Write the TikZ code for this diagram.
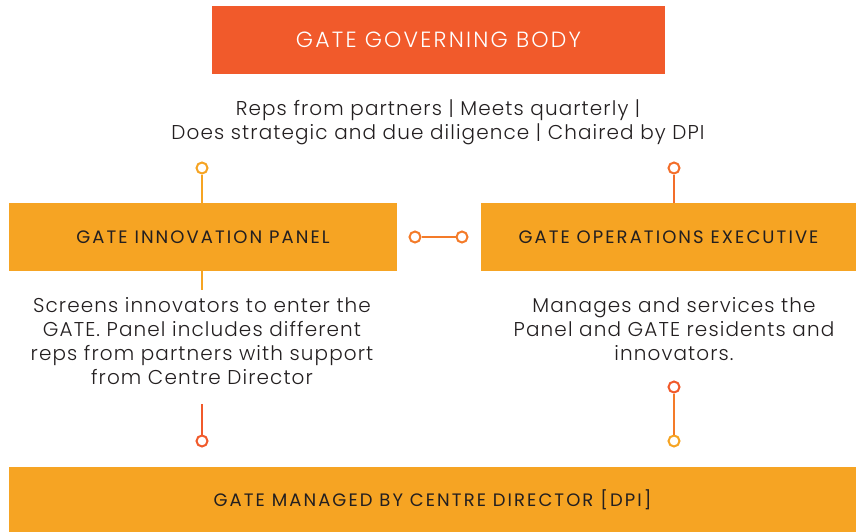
\documentclass[tikz,border=0pt]{standalone}
\usepackage{fontspec}
\setmainfont{Poppins Light}
\newfontfamily\boxfont{Poppins}
\usepackage{tikz}

\definecolor{govred}{HTML}{F15A2B}
\definecolor{panelamber}{HTML}{F6A423}
\definecolor{linkorange}{HTML}{F47B29}
\definecolor{inktext}{HTML}{231F20}

\tikzset{
  govbox/.style={fill=govred, text=white, inner sep=0pt, font=\fontsize{22}{25}\selectfont\addfontfeatures{LetterSpace=10}},
  panelbox/.style={fill=panelamber, text=inktext, inner sep=0pt, font=\boxfont\fontsize{18}{20}\selectfont\addfontfeatures{LetterSpace=11.5}},
  notetext/.style={text=inktext, align=center, inner sep=0pt, font=\fontsize{20}{24}\selectfont\addfontfeatures{LetterSpace=5.5}},
  knob/.style={circle, draw=#1, fill=white, line width=2pt, minimum size=11pt, inner sep=0pt},
  link/.style={draw=#1, line width=2pt}
}

\begin{document}
\begin{tikzpicture}[x=1pt, y=-1pt]
  \useasboundingbox (0,0) rectangle (856,532);

  % boxes
  \node[govbox, minimum width=453pt, minimum height=68pt] (gov) at (438.5,40) {GATE GOVERNING BODY};
  \node[panelbox, minimum width=388pt, minimum height=68pt] (innov) at (203,237) {GATE INNOVATION PANEL};
  \node[panelbox, minimum width=375pt, minimum height=68pt] (ops) at (668.5,237) {GATE OPERATIONS EXECUTIVE};
  \node[panelbox, minimum width=847pt, minimum height=65pt] (managed) at (432.5,499.5) {GATE MANAGED BY CENTRE DIRECTOR [DPI]};

  % texts
  \node[notetext] (govnote) at (438,122) {Reps from partners | Meets quarterly |\\Does strategic and due diligence | Chaired by DPI};
  \node[notetext] (innovnote) at (202,341) {Screens innovators to enter the\\GATE. Panel includes different\\reps from partners with support\\from Centre Director};
  \node[notetext] (opsnote) at (674,329) {Manages and services the\\Panel and GATE residents and\\innovators.};

  % connectors
  \begin{scope}[color=panelamber]
    \node[knob=panelamber] (govknobL) at (202,168) {};
    \draw[link=panelamber] (govknobL) -- (innov.north -| govknobL);
    \coordinate (innovtail) at (202,290);
    \draw[link=panelamber] (innov.south -| innovtail) -- (innovtail);
  \end{scope}
  \begin{scope}[color=govred]
    \node[knob=linkorange!60!govred] (govknobR) at (674,168) {};
    \draw[link=linkorange!60!govred] (govknobR) -- (ops.north -| govknobR);
    \coordinate (innovhead) at (202,404);
    \node[knob=govred] (managedknobL) at (202,441) {};
    \draw[link=govred] (innovhead) -- (managedknobL);
    \node[knob=govred] (opsknob) at (674,387) {};
    \node[knob=panelamber] (managedknobR) at (674,441) {};
    \draw[link=linkorange] (opsknob) -- (managedknobR);
  \end{scope}
  \node[knob=linkorange] (linkL) at (415,237) {};
  \node[knob=linkorange] (linkR) at (462,237) {};
  \draw[link=linkorange] (linkL) -- (linkR);
\end{tikzpicture}
\end{document}
